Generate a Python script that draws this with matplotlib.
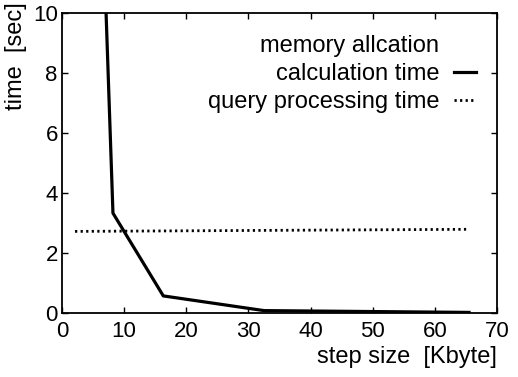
import numpy as np
import matplotlib
matplotlib.use("Agg")
import matplotlib.pyplot as plt

# data
step_calc = [4.1, 8.2, 16.3, 32.5, 65.5]
time_calc = [28.0, 3.33, 0.57, 0.08, 0.02]
step_query = [2.1, 65.5]
time_query = [2.72, 2.79]

xticks = [0, 10, 20, 30, 40, 50, 60, 70]
yticks = [0, 2, 4, 6, 8, 10]

plt.rcParams['font.family'] = ['Liberation Sans', 'DejaVu Sans']

fig = plt.figure(figsize=(5.18, 3.77), dpi=100)
ax = fig.add_axes([62/518, 1 - 313/377, 435/518, 300/377])

# heading line of the legend, no line sample
ax.plot([], [], color="none", label="memory allcation")
ax.plot(step_calc, time_calc, color="black", lw=2.3,
        label="calculation time")
ax.plot(step_query, time_query, color="black", lw=2.0,
        linestyle=(0, (0.8, 1.2)), label="query processing time")

ax.set_xlim(0, 70)
ax.set_ylim(0, 10)
ax.set_xticks(xticks)
ax.set_yticks(yticks)
ax.tick_params(direction="in", length=4, width=1, top=True, right=True,
               labelsize=16)
ax.tick_params(axis="x", pad=6)
ax.tick_params(axis="y", pad=3)
for s in ax.spines.values():
    s.set_linewidth(1.3)

ax.set_xlabel("step size  [Kbyte]", fontsize=17, loc="right")
ax.xaxis.set_label_coords(1.0, -0.11)
ax.set_ylabel("time  [sec]", fontsize=17, loc="top")
ax.yaxis.set_label_coords(-0.08, 1.037)

leg = ax.legend(loc="upper right", bbox_to_anchor=(476/518, 1 - 35/377),
                bbox_transform=fig.transFigure, frameon=False, markerfirst=False,
                fontsize=17, handlelength=0.95, handletextpad=0.6,
                labelspacing=0.26, borderpad=0, borderaxespad=0)

fig.savefig("out.png", dpi=100)
